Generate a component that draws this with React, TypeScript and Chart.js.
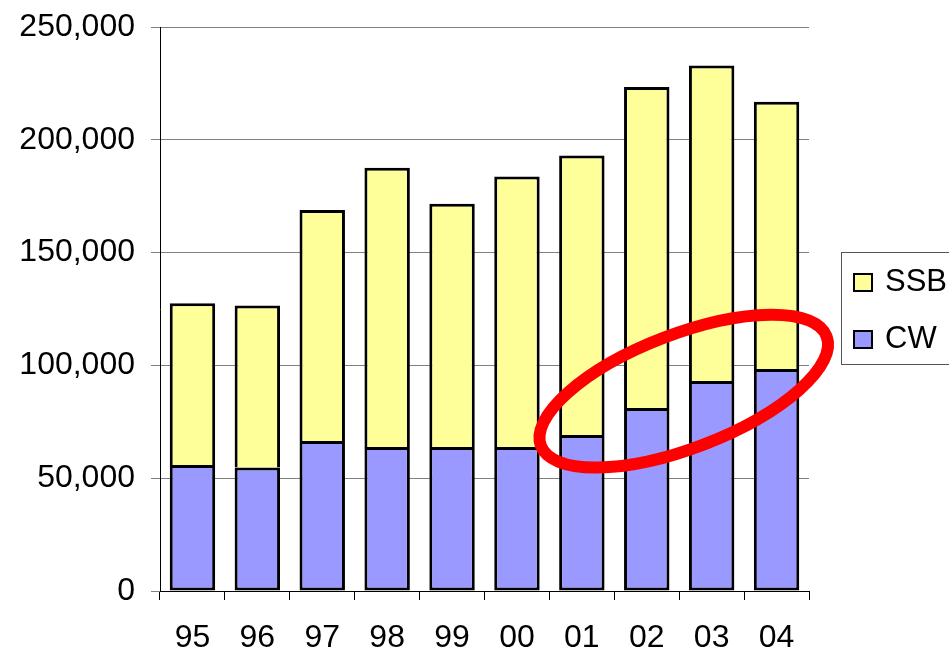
import React, { useEffect, useRef } from "react";
import { Chart, registerables } from "chart.js";

Chart.register(...registerables);

const categories = ["95", "96", "97", "98", "99", "00", "01", "02", "03", "04"];
const cwValues = [55900, 54700, 66500, 63800, 63800, 63800, 69200, 81100, 93100, 98400];
const ssbValues = [71600, 71800, 102400, 123800, 107900, 119900, 123800, 142300, 139800, 118500];
const yTicks = [0, 50000, 100000, 150000, 200000, 250000];

const seriesLabels = ["CW", "SSB"];
const seriesColors = ["#9999FF", "#FFFF99"];

// annotation ellipse (center in data coordinates)
const ellipseCenterIndex = 7.57;
const ellipseCenterValue = 88600;

const FONT = "'Liberation Sans', Arial, sans-serif";

const ellipsePlugin = {
  id: "ellipseAnnot",
  afterDatasetsDraw(chart: any) {
    const { ctx, scales } = chart;
    const cx = scales.x.getPixelForValue(ellipseCenterIndex);
    const cy = scales.y.getPixelForValue(ellipseCenterValue);
    ctx.save();
    ctx.beginPath();
    ctx.ellipse(cx, cy, 153, 57, (-21 * Math.PI) / 180, 0, Math.PI * 2);
    ctx.strokeStyle = "#FF0000";
    ctx.lineWidth = 12;
    ctx.stroke();
    ctx.restore();
  },
};

const legendPlugin = {
  id: "boxLegend",
  afterDraw(chart: any) {
    const { ctx } = chart;
    const ds = chart.data.datasets;
    ctx.save();
    ctx.strokeStyle = "#555";
    ctx.lineWidth = 1;
    ctx.strokeRect(841.5, 252.5, 130, 112);
    ctx.font = `31px ${FONT}`;
    ctx.textBaseline = "alphabetic";
    ctx.textAlign = "left";
    const order = [1, 0];
    order.forEach((di, k) => {
      const y = 274 + k * 57;
      ctx.fillStyle = ds[di].backgroundColor;
      ctx.fillRect(854, y, 18, 17);
      ctx.strokeStyle = "#000";
      ctx.lineWidth = 2;
      ctx.strokeRect(854, y, 18, 17);
      ctx.fillStyle = "#000";
      ctx.fillText(ds[di].label, 885, y + 16.5);
    });
    ctx.restore();
  },
};

export default function App() {
  const ref = useRef<HTMLCanvasElement>(null);
  useEffect(() => {
    if (!ref.current) return;
    const chart = new Chart(ref.current, {
      type: "bar",
      data: {
        labels: categories,
        datasets: [
          {
            label: seriesLabels[0],
            data: cwValues,
            backgroundColor: seriesColors[0],
            borderColor: "#000",
            borderWidth: 3,
            borderSkipped: false,
            barPercentage: 0.7,
            categoryPercentage: 1,
          },
          {
            label: seriesLabels[1],
            data: ssbValues,
            backgroundColor: seriesColors[1],
            borderColor: "#000",
            borderWidth: { top: 3, left: 3, right: 3, bottom: 0 },
            borderSkipped: false,
            barPercentage: 0.7,
            categoryPercentage: 1,
          },
        ],
      },
      options: {
        responsive: false,
        animation: false,
        devicePixelRatio: 1,
        layout: { padding: { top: 27, right: 140, left: 0, bottom: 0 } },
        plugins: { legend: { display: false }, tooltip: { enabled: false } },
        scales: {
          x: {
            stacked: true,
            grid: {
              offset: true,
              drawOnChartArea: false,
              drawTicks: true,
              tickLength: 9,
              color: "#000",
            },
            border: { color: "#000", width: 1 },
            ticks: { color: "#000", font: { family: FONT, size: 32 }, padding: 19, maxRotation: 0 },
            afterFit(scale: any) {
              scale.height = 60;
              scale.paddingLeft = 0;
              scale.paddingRight = 0;
            },
          },
          y: {
            stacked: true,
            min: 0,
            max: 250000,
            afterBuildTicks(scale: any) {
              scale.ticks = yTicks.map((v) => ({ value: v }));
            },
            grid: { color: "#808080", tickLength: 9, lineWidth: 1 },
            border: { color: "#000", width: 1 },
            ticks: {
              color: "#000",
              font: { family: FONT, size: 32 },
              padding: 16,
              callback: (v: any) => Number(v).toLocaleString("en-US"),
            },
            afterFit(scale: any) {
              scale.width = 160;
              scale.paddingTop = 0;
              scale.paddingBottom = 0;
            },
          },
        },
      },
      plugins: [ellipsePlugin, legendPlugin],
    });
    return () => chart.destroy();
  }, []);
  return (
    <div style={{ position: "absolute", left: 0, top: 0, width: 949, height: 651, background: "#fff" }}>
      <canvas ref={ref} width={949} height={651} style={{ display: "block" }} />
    </div>
  );
}
